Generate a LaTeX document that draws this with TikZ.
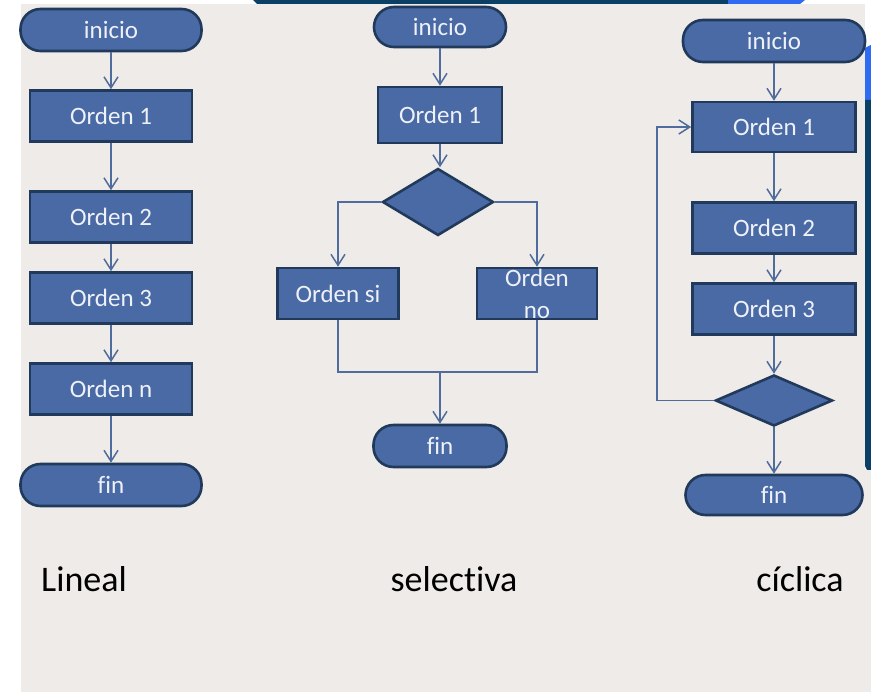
\documentclass[tikz,border=0pt]{standalone}
\usepackage{fontspec}
\setmainfont[Ligatures=NoCommon]{Carlito}
\usetikzlibrary{shapes.geometric,arrows.meta}
\definecolor{boxblue}{HTML}{4A6AA6}
\definecolor{boxedge}{HTML}{213A5C}
\definecolor{linkblue}{HTML}{4F6C9C}
\definecolor{boxtext}{HTML}{EEF1F7}
\definecolor{slidegray}{HTML}{EEEBE8}
\definecolor{slidenavy}{HTML}{0B3F66}
\definecolor{slidebright}{HTML}{2F6BF2}
\newcommand{\BOXFONT}{\fontsize{25}{32}\selectfont}

\begin{document}
\begin{tikzpicture}[x=1pt,y=-1pt,
   >={Straight Barb[length=11pt,width=14pt]},
   term/.style={rectangle,rounded corners=20pt,draw=boxedge,line width=2.6pt,fill=boxblue,
      text=boxtext,font=\BOXFONT,minimum width=181pt,minimum height=42pt,inner sep=0pt},
   order/.style={rectangle,draw=boxedge,line width=2.6pt,fill=boxblue,
      text=boxtext,font=\BOXFONT,minimum width=162pt,minimum height=51pt,inner sep=0pt},
   choice/.style={diamond,draw=boxedge,line width=2.6pt,fill=boxblue,inner sep=0pt},
   link/.style={draw=linkblue,line width=1.5pt},
   title/.style={anchor=base,font=\fontsize{36}{42}\selectfont}]
   \useasboundingbox (0,0) rectangle (871,692);
   \fill[white] (0,0) rectangle (871,692);
   \fill[slidegray] (21,4) rectangle (865,692);
   \fill[slidegray] (865,470) rectangle (871,692);
   \fill[slidenavy] (253,0) -- (728,0) -- (728,4) -- (257,4) -- cycle;
   \fill[slidebright] (728,0) -- (805,0) -- (800,4) -- (728,4) -- cycle;
   \fill[slidebright] (865,48) -- (871,45) -- (871,100) -- (865,100) -- cycle;
   \fill[slidenavy] (865,100) -- (871,100) -- (871,470) -- (867,470) -- (865,466) -- cycle;

   \node (lstart) at (111,30) [term] {inicio};
   \node (lord1) at (111,116) [order] {Orden 1};
   \node (lord2) at (111,217) [order] {Orden 2};
   \node (lord3) at (111,298) [order] {Orden 3};
   \node (lordn) at (111,389) [order] {Orden n};
   \node (lfin) at (111,485) [term] {fin};
   \draw[->,link] (lstart) to (lord1);
   \draw[->,link] (lord1) to (lord2);
   \draw[->,link] (lord2) to (lord3);
   \draw[->,link] (lord3) to (lordn);
   \draw[->,link] (lordn) to (lfin);

   \node (sstart) at (440,27) [term,minimum width=132pt,minimum height=40pt] {inicio};
   \node (sord1) at (440,115) [order,minimum width=124pt,minimum height=56pt] {Orden 1};
   \node (sdec) at (438,202) [choice,minimum width=111pt,minimum height=67pt] {};
   \node (ssi) at (338,293.5) [order,minimum width=121pt] {Orden si};
   \node (sno) at (537,293.5) [order,minimum width=120pt,align=center] {Orden\\no};
   \coordinate (sjoin) at (440,372);
   \node (sfin) at (440,446) [term,minimum width=133pt,minimum height=42pt] {fin};
   \draw[->,link] (sstart) to (sord1);
   \draw[->,link] (sord1) to (sord1 |- sdec.north);
   \draw[->,link] (sdec.west) -| (ssi.north);
   \draw[->,link] (sdec.east) -| (sno.north);
   \draw[link] (ssi.south) |- (sjoin) -| (sno.south);
   \draw[->,link] (sjoin) to (sfin);

   \node (cstart) at (774,41) [term,minimum width=182pt] {inicio};
   \node (cord1) at (774,127) [order,minimum width=163pt,minimum height=50pt] {Orden 1};
   \node (cord2) at (774,228) [order,minimum width=163pt] {Orden 2};
   \node (cord3) at (774,309) [order,minimum width=163pt] {Orden 3};
   \node (cdec) at (774,400.5) [choice,minimum width=117pt,minimum height=51pt] {};
   \node (cfin) at (774,495) [term,minimum width=177pt,minimum height=40pt] {fin};
   \draw[->,link] (cstart) to (cord1);
   \draw[->,link] (cord1) to (cord2);
   \draw[->,link] (cord2) to (cord3);
   \draw[->,link] (cord3) to (cdec);
   \draw[->,link] (cdec) to (cfin);
   \draw[->,link] (cdec.west) -- ++(-57,0) |- (cord1.west);

   \node (tlin) at (84,592) [title] {Lineal};
   \node (tsel) at (454,592) [title] {selectiva};
   \node (tcic) at (800,592) [title] {cíclica};
\end{tikzpicture}
\end{document}
